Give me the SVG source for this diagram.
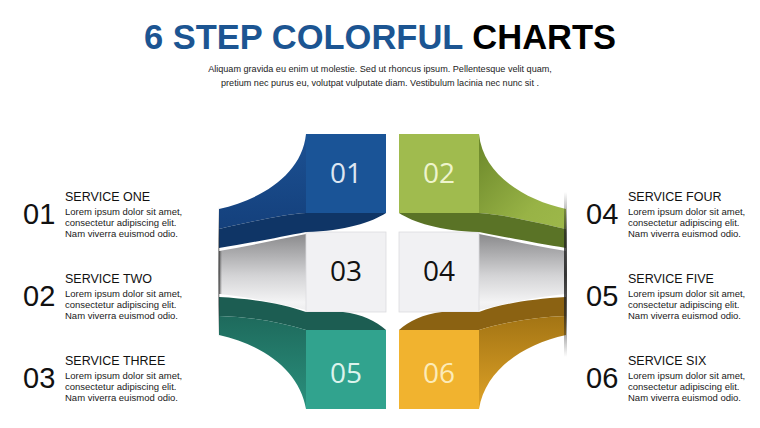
<svg xmlns="http://www.w3.org/2000/svg" width="760" height="428" viewBox="0 0 760 428">
<style>
.t{font-family:"Liberation Sans",Arial,sans-serif}
.num{font-family:"Liberation Sans",Arial,sans-serif;font-size:29px;fill:#111}
.st{font-family:"Liberation Sans",Arial,sans-serif;font-size:12.5px;fill:#111}
.lo{font-family:"Liberation Sans",Arial,sans-serif;font-size:9.5px;fill:#1a1a1a}
.bx{font-family:"Open Sans","Noto Sans",sans-serif;font-weight:400;font-size:28px;text-anchor:middle}
</style>
<defs>
<linearGradient id="gBlue" x1="0" y1="0" x2="0" y2="1"><stop offset="0" stop-color="#1c5193"/><stop offset="1" stop-color="#14407c"/></linearGradient>
<linearGradient id="gGreen" x1="0" y1="0" x2="1" y2="1"><stop offset="0" stop-color="#6a8629"/><stop offset="0.7" stop-color="#98b346"/><stop offset="1" stop-color="#9db84a"/></linearGradient>
<linearGradient id="gTeal" x1="0" y1="0" x2="0" y2="1"><stop offset="0" stop-color="#1e6a5c"/><stop offset="1" stop-color="#2a907d"/></linearGradient>
<linearGradient id="gGold" x1="0" y1="0" x2="0" y2="1"><stop offset="0" stop-color="#a37414"/><stop offset="1" stop-color="#dfa327"/></linearGradient>
<linearGradient id="gGray" x1="0" y1="0" x2="0" y2="1"><stop offset="0" stop-color="#8a8a8c"/><stop offset="0.55" stop-color="#d4d4d6"/><stop offset="0.9" stop-color="#f4f4f5"/><stop offset="1" stop-color="#eeeeef"/></linearGradient>
<linearGradient id="gEdge" x1="0" y1="0" x2="0" y2="1"><stop offset="0" stop-color="#222" stop-opacity="0"/><stop offset="0.25" stop-color="#222" stop-opacity="0.7"/><stop offset="0.5" stop-color="#222" stop-opacity="0.9"/><stop offset="0.75" stop-color="#222" stop-opacity="0.7"/><stop offset="1" stop-color="#222" stop-opacity="0"/></linearGradient>
<linearGradient id="gEdgeL" x1="0" y1="0" x2="1" y2="0"><stop offset="0" stop-color="#444" stop-opacity="0.8"/><stop offset="1" stop-color="#444" stop-opacity="0"/></linearGradient>
</defs>
<rect width="760" height="428" fill="#ffffff"/>

<g id="title">
<text class="t" x="380" y="49" text-anchor="middle" font-size="34.5" font-weight="bold"><tspan fill="#1c5592">6 STEP COLORFUL </tspan><tspan fill="#000">CHARTS</tspan></text>
<text class="t" x="380" y="72" text-anchor="middle" font-size="9.1" fill="#222">Aliquam gravida eu enim ut molestie. Sed ut rhoncus ipsum. Pellentesque velit quam,</text>
<text class="t" x="380" y="86" text-anchor="middle" font-size="9.1" fill="#222">pretium nec purus eu, volutpat vulputate diam. Vestibulum lacinia nec nunc sit .</text>
</g>

<g id="connectors"></g>

<g id="node-03">
<path d="M219,251 C250,246 280,239 306,234 L306,310 C285,305 250,297 219,294 Z" fill="url(#gGray)"/>
<rect x="219" y="251" width="3" height="43" fill="url(#gEdgeL)"/>
<rect x="306" y="232" width="80" height="80" fill="#f1f1f3" stroke="#dcdcde" stroke-width="0.8"/>
<text class="bx" x="346" y="281" fill="#111">03</text>
</g>

<g id="node-04">
<path d="M566,251 C535,246 505,239 479,234 L479,310 C500,305 535,297 566,294 Z" fill="url(#gGray)"/>
<rect x="399" y="232" width="80" height="80" fill="#f1f1f3" stroke="#dcdcde" stroke-width="0.8"/>
<text class="bx" x="439" y="281" fill="#111">04</text>
</g>

<g id="node-01">
<path d="M306,134 C302,175 260,200 219,209 L219,229 C250,222 285,214 306,213 Z" fill="url(#gBlue)"/>
<path d="M219,229 C250,222 285,214 306,213 L386,213 C372,222 345,231 306,232 C280,237 245,244 219,248 Z" fill="#0f3566"/>
<rect x="306" y="134" width="80" height="79" fill="#1a5497"/>
<text class="bx" x="346" y="183" fill="#dde6f2">01</text>
</g>

<g id="node-02">
<path d="M479,134 C483,175 525,200 566,209 L566,229 C535,222 500,214 479,213 Z" fill="url(#gGreen)"/>
<path d="M566,229 C535,222 500,214 479,213 L399,213 C413,222 440,231 479,232 C505,237 540,244 566,248 Z" fill="#5a7326"/>
<rect x="399" y="134" width="80" height="79" fill="#a0bb4e"/>
<text class="bx" x="439" y="183" fill="#eef4cc">02</text>
</g>

<g id="node-05">
<path d="M219,297 C255,299 285,304 306,312 L343,312 C362,314 376,321 386,330 L306,330 C280,322 250,317 219,316 Z" fill="#1c5d52"/>
<path d="M219,316 C250,317 280,322 306,330 L306,409 C300,372 265,345 219,335 Z" fill="url(#gTeal)"/>
<rect x="306" y="330" width="80" height="79" fill="#31a38e"/>
<text class="bx" x="346" y="383" fill="#dcf3ec">05</text>
</g>

<g id="node-06">
<path d="M566,297 C530,299 500,304 479,312 L442,312 C423,314 409,321 399,330 L479,330 C505,322 535,317 566,316 Z" fill="#8b6212"/>
<path d="M566,316 C535,317 505,322 479,330 L479,409 C485,372 520,345 566,335 Z" fill="url(#gGold)"/>
<rect x="399" y="330" width="80" height="79" fill="#f1b32f"/>
<text class="bx" x="439" y="383" fill="#fcebb8">06</text>
</g>

<rect x="564" y="192" width="3" height="165" fill="url(#gEdge)"/>
<rect x="218" y="206" width="1.5" height="132" fill="url(#gEdge)" opacity="0.6"/>

<g id="service-01">
<text class="num" x="23" y="224">01</text>
<text class="st" x="65" y="200.5">SERVICE ONE</text>
<text class="lo" x="65" y="214.5">Lorem ipsum dolor sit amet,</text>
<text class="lo" x="65" y="225.5">consectetur adipiscing elit.</text>
<text class="lo" x="65" y="236.5">Nam viverra euismod odio.</text>
</g>
<g id="service-02">
<text class="num" x="23" y="306">02</text>
<text class="st" x="65" y="282.5">SERVICE TWO</text>
<text class="lo" x="65" y="296.5">Lorem ipsum dolor sit amet,</text>
<text class="lo" x="65" y="307.5">consectetur adipiscing elit.</text>
<text class="lo" x="65" y="318.5">Nam viverra euismod odio.</text>
</g>
<g id="service-03">
<text class="num" x="23" y="388">03</text>
<text class="st" x="65" y="364.5">SERVICE THREE</text>
<text class="lo" x="65" y="378.5">Lorem ipsum dolor sit amet,</text>
<text class="lo" x="65" y="389.5">consectetur adipiscing elit.</text>
<text class="lo" x="65" y="400.5">Nam viverra euismod odio.</text>
</g>
<g id="service-04">
<text class="num" x="586" y="224">04</text>
<text class="st" x="628" y="200.5">SERVICE FOUR</text>
<text class="lo" x="628" y="214.5">Lorem ipsum dolor sit amet,</text>
<text class="lo" x="628" y="225.5">consectetur adipiscing elit.</text>
<text class="lo" x="628" y="236.5">Nam viverra euismod odio.</text>
</g>
<g id="service-05">
<text class="num" x="586" y="306">05</text>
<text class="st" x="628" y="282.5">SERVICE FIVE</text>
<text class="lo" x="628" y="296.5">Lorem ipsum dolor sit amet,</text>
<text class="lo" x="628" y="307.5">consectetur adipiscing elit.</text>
<text class="lo" x="628" y="318.5">Nam viverra euismod odio.</text>
</g>
<g id="service-06">
<text class="num" x="586" y="388">06</text>
<text class="st" x="628" y="364.5">SERVICE SIX</text>
<text class="lo" x="628" y="378.5">Lorem ipsum dolor sit amet,</text>
<text class="lo" x="628" y="389.5">consectetur adipiscing elit.</text>
<text class="lo" x="628" y="400.5">Nam viverra euismod odio.</text>
</g>
</svg>
